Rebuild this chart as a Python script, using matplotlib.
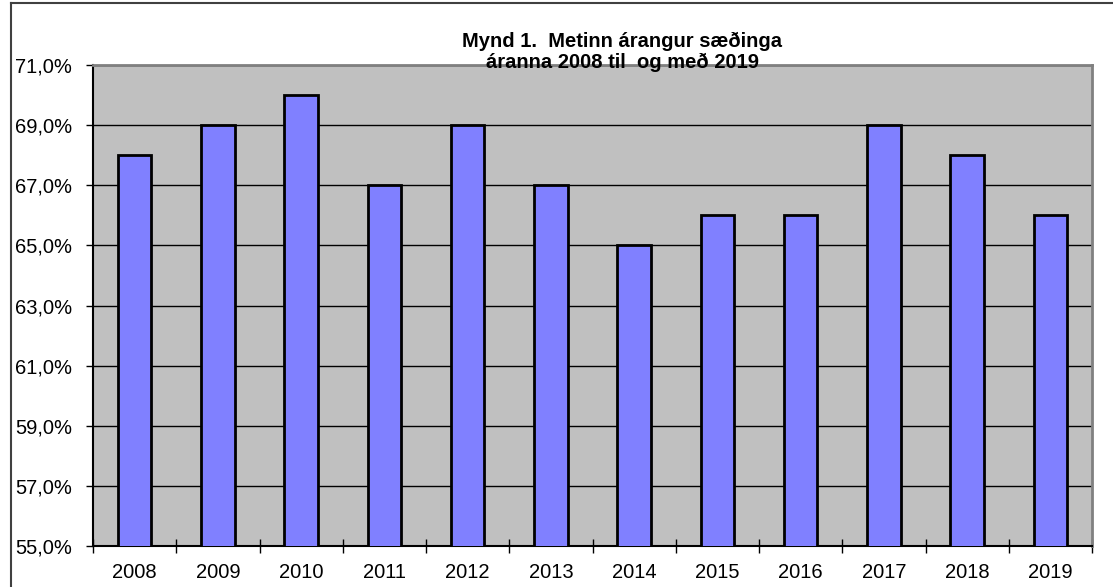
import matplotlib.pyplot as plt
from matplotlib.lines import Line2D
import numpy as np

# ---------------------------------------------------------- #
#  Data                                                      #
# ---------------------------------------------------------- #
years = ['2008', '2009', '2010', '2011', '2012', '2013',
         '2014', '2015', '2016', '2017', '2018', '2019']
arangur = [68, 69, 70, 67, 69, 67, 65, 66, 66, 69, 68, 66]  # %
y_ticks = [55, 57, 59, 61, 63, 65, 67, 69, 71]

TITLE = 'Mynd 1.  Metinn árangur sæðinga\náranna 2008 til  og með 2019'

plt.rcParams['font.family'] = ['Liberation Sans', 'DejaVu Sans']

fig = plt.figure(figsize=(11.13, 5.87), dpi=100)
W, H = 1113, 587
left, right, top, bottom = 93, 1092, 65, 546
ax = fig.add_axes([left / W, 1 - bottom / H, (right - left) / W, (bottom - top) / H])

x = np.arange(len(years))
ax.set_facecolor('#C0C0C0')
ax.bar(x, arangur, width=0.4, color='#8080FF', edgecolor='black',
       linewidth=2, zorder=3)

ax.set_xlim(-0.5, len(years) - 0.5)
ax.set_ylim(55, 71)
ax.set_yticks(y_ticks)
ax.set_yticklabels(['{:.1f}%'.format(v).replace('.', ',') for v in y_ticks])
ax.yaxis.grid(True, color='black', linewidth=1, zorder=1)
ax.set_axisbelow(True)

# category labels in the middle, tick marks between
ax.set_xticks(x)
ax.set_xticklabels(years)
ax.tick_params(axis='x', length=0, pad=12, labelsize=14.5)
ax.set_xticks(np.arange(-0.5, len(years)), minor=True)
ax.tick_params(axis='x', which='minor', length=10, width=1, direction='inout')
ax.tick_params(axis='y', length=5, width=1, pad=10, labelsize=14.5)

for s in ['left', 'bottom']:
    ax.spines[s].set_color('black')
    ax.spines[s].set_linewidth(1.5)
for s in ['top', 'right']:
    ax.spines[s].set_color('#808080')
    ax.spines[s].set_linewidth(2)

fig.text(622 / W, 1 - 52 / H, TITLE, ha='center', va='center',
         fontsize=14.5, fontweight='bold', linespacing=1.1)

# outer chart frame (only top and left visible)
fig.add_artist(Line2D([11 / W, 1.0], [1 - 3 / H, 1 - 3 / H], color='#404040', linewidth=1.5))
fig.add_artist(Line2D([11 / W, 11 / W], [0, 1 - 3 / H], color='#404040', linewidth=1.5))

fig.savefig('out.png', dpi=100)
